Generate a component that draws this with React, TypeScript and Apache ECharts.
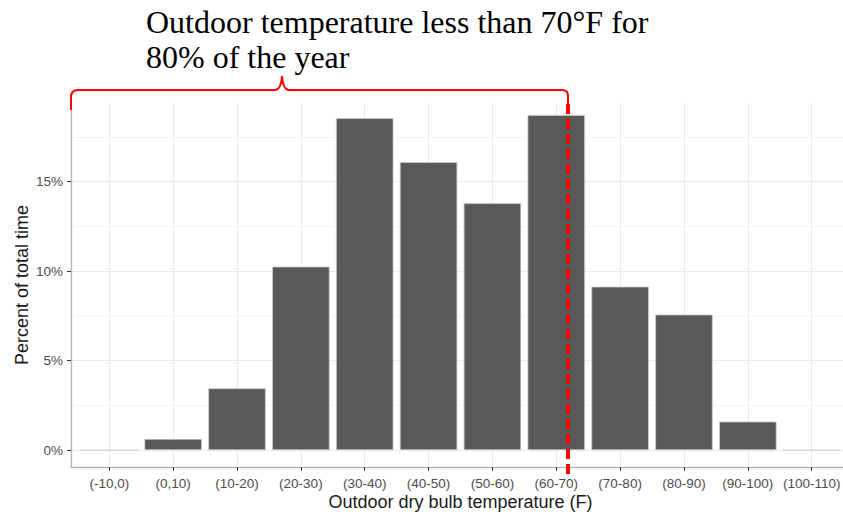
import React, { useEffect, useRef } from "react";
import * as echarts from "echarts";

const categories = [
  "(-10,0)", "(0,10)", "(10-20)", "(20-30)", "(30-40)", "(40-50)",
  "(50-60)", "(60-70)", "(70-80)", "(80-90)", "(90-100)", "(100-110)",
];
const percentTime = [0, 0.63, 3.46, 10.26, 18.56, 16.1, 13.8, 18.73, 9.14, 7.58, 1.6, 0];
const yMajorTicks = [0, 5, 10, 15];
const yMinorTicks = [2.5, 7.5, 12.5, 17.5];
const annotationLines = ["Outdoor temperature less than 70°F for", "80% of the year"];

const BRACKET_D =
  "M71,110 L71,97 Q71,90 78,90 L275,90 Q281,90 282,76 Q283,90 289,90 L562,90 Q568,90 568,96 L568,104";

let registered = false;

export default function App() {
  const ref = useRef<HTMLDivElement>(null);
  useEffect(() => {
    if (!ref.current) return;
    if (!registered) {
      echarts.graphic.registerShape("bracket", echarts.graphic.extendPath(BRACKET_D, {}));
      registered = true;
    }
    const chart = echarts.init(ref.current, undefined, { renderer: "svg" });
    const xTicks = categories.map((_, i) => i);
    chart.setOption({
      animation: false,
      backgroundColor: "#ffffff",
      grid: { left: 71, right: -7, top: 103, bottom: 45, outerBoundsMode: "none", containLabel: false },
      xAxis: {
        type: "value",
        min: -0.6,
        max: 11.6,
        name: "Outdoor dry bulb temperature (F)",
        nameLocation: "middle",
        nameGap: 26,
        nameMoveOverlap: false,
        nameTextStyle: { fontFamily: "Liberation Sans", fontSize: 18, color: "#1a1a1a" },
        axisLine: { show: true, onZero: false, lineStyle: { color: "#b3b3b3", width: 1.3 } },
        axisTick: { show: true, length: 4, customValues: xTicks, lineStyle: { color: "#333333", width: 1 } },
        axisLabel: {
          customValues: xTicks,
          margin: 9,
          fontFamily: "Liberation Sans",
          fontSize: 13.5,
          color: "#4d4d4d",
          formatter: (v: number) => categories[Math.round(v)] ?? "",
        },
        splitLine: { show: true, lineStyle: { color: "#ebebeb", width: 1 } },
      },
      yAxis: [
        {
          type: "value",
          min: -0.94,
          max: 19.4,
          name: "Percent of total time",
          nameLocation: "middle",
          nameGap: 40,
          nameMoveOverlap: false,
          nameRotate: 90,
          nameTextStyle: { fontFamily: "Liberation Sans", fontSize: 18, color: "#1a1a1a" },
          axisLine: { show: true, onZero: false, lineStyle: { color: "#b3b3b3", width: 1.3 } },
          axisTick: { show: true, length: 4, customValues: yMajorTicks, lineStyle: { color: "#333333", width: 1 } },
          axisLabel: {
            customValues: yMajorTicks,
            margin: 8,
            fontFamily: "Liberation Sans",
            fontSize: 13.5,
            color: "#4d4d4d",
            formatter: (v: number) => `${v}%`,
          },
          splitLine: { show: true, lineStyle: { color: "#ebebeb", width: 1 } },
        },
        {
          type: "value",
          min: -0.94,
          max: 19.4,
          position: "left",
          axisLine: { show: false, onZero: false },
          axisTick: { show: false, customValues: yMinorTicks },
          axisLabel: { show: false, customValues: yMinorTicks },
          splitLine: { show: true, lineStyle: { color: "#f5f5f5", width: 1 } },
        },
      ],
      series: [
        {
          type: "bar",
          xAxisIndex: 0,
          yAxisIndex: 0,
          barWidth: 57.5,
          data: categories.map((_, i) => [i, percentTime[i]]),
          itemStyle: { color: "#595959", borderColor: "#cccccc", borderWidth: 0.8 },
        },
      ],
      graphic: [
        {
          type: "text",
          left: 146,
          top: 4,
          z: 100,
          style: {
            text: annotationLines.join("\n"),
            fontFamily: "Liberation Serif",
            fontSize: 32,
            lineHeight: 35,
            fill: "#000000",
          },
        },
        {
          type: "bracket",
          x: 0,
          y: 0,
          z: 100,
          style: { stroke: "#ff0000", lineWidth: 2, fill: "none" },
        },
        {
          type: "line",
          z: 100,
          shape: { x1: 568, y1: 104, x2: 568, y2: 479 },
          style: { stroke: "#ff0000", lineWidth: 4, lineDash: [10, 5] },
        },
      ],
    });
    return () => chart.dispose();
  }, []);
  return (
    <div
      ref={ref}
      style={{ position: "fixed", left: 0, top: 0, width: 843, height: 512 }}
    />
  );
}
